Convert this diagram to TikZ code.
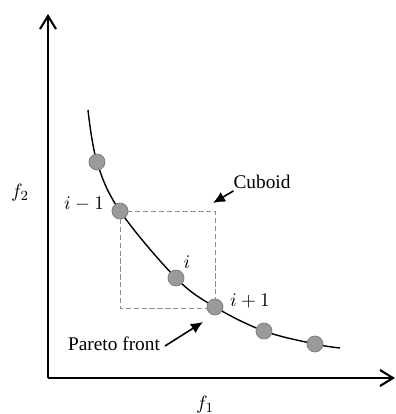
\documentclass[tikz,border=0pt]{standalone}
\usepackage{fontspec}
\setmainfont{Liberation Serif}
\usepackage{tikz}
\usetikzlibrary{arrows.meta,positioning}
\definecolor{PFdot}{HTML}{9A9A9A}
\definecolor{PFrim}{HTML}{7A7A7A}
\definecolor{PFbox}{HTML}{8C8C8C}
\tikzset{pfdot/.style={circle,fill=PFdot,draw=PFrim,thin,minimum size=0.32cm,inner sep=0pt},
 pfaxis/.style={-{Straight Barb[length=2.6mm,width=3.2mm]},line width=1.2pt},
 pfarr/.style={-{Latex[length=2.4mm,width=2.2mm]},line width=0.9pt},
 pflabel/.style={font=\fontsize{11}{13}\selectfont,inner sep=1pt}}

\begin{document}
\begin{tikzpicture}[x=0.02cm,y=0.02cm]
\useasboundingbox (0,0) rectangle (396,414);
% axes
\coordinate (origin) at (48,36);
\coordinate (ytop) at (48,400);
\coordinate (xend) at (395,36);
\draw[pfaxis] (origin)--(ytop);
\draw[pfaxis] (origin)--(xend);
\node[pflabel] (f2) at (20,221) {$f_2$};
\node[pflabel] (f1) at (205,9) {$f_1$};
% cuboid
\draw[dashed,PFbox,thin,dash pattern=on 3pt off 1.5pt] (120,203) rectangle (215,106);
% pareto front
\draw[line width=0.8pt] plot[smooth,tension=0.6] coordinates
 {(88,304) (97,252) (120,203) (176,136) (215,107) (264,83) (315,70) (340,66)};
\node[pfdot] (p1) at (97,252) {};
\node[pfdot] (pim) at (120,203) {};
\node[pfdot] (pi) at (176,136) {};
\node[pfdot] (pip) at (215,107) {};
\node[pfdot] (p5) at (264,83) {};
\node[pfdot] (p6) at (315,70) {};
\node[pflabel] (lim) at (84,210) {$i-1$};
\node[pflabel] (li) at (187,152) {$i$};
\node[pflabel] (lip) at (250,113) {$i+1$};
\node[pflabel] (lcub) at (262,232) {Cuboid};
\node[pflabel] (lpar) at (114,70) {Pareto front};
\coordinate (cubtip) at (213,211);
\coordinate (partip) at (203,92);
\draw[pfarr] (lcub.south west)++(2,0) -- (cubtip);
\draw[pfarr] (lpar.east)++(3,-2) -- (partip);
\end{tikzpicture}
\end{document}
